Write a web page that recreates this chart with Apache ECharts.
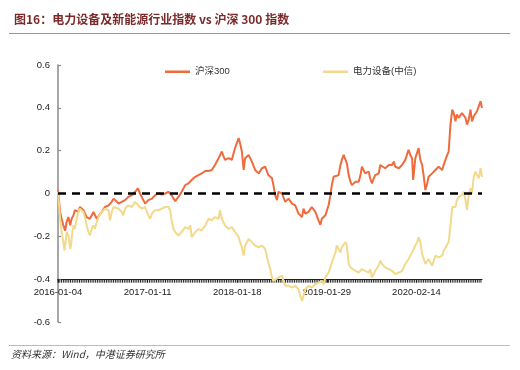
<!DOCTYPE html>
<html>
<head>
<meta charset="utf-8">
<script src="https://cdn.jsdelivr.net/npm/echarts@6/dist/echarts.min.js"></script>
<style>
html,body{margin:0;padding:0;background:#fff;}
#c{width:520px;height:370px;}
</style>
</head>
<body>
<div id="c"></div>
<script>
// Trading-day index (0 = 2016-01-04) and cumulative return
var tickLabels = ['2016-01-04','2017-01-11','2018-01-18','2019-01-29','2020-02-14'];
var seriesNames = ['沪深300','电力设备(中信)'];
var hs300 = [[0,0.016],[6,-0.086],[10,-0.118],[15,-0.149],[20,-0.173],[24,-0.133],[29,-0.110],[34,-0.149],[38,-0.118],[43,-0.102],[47,-0.078],[52,-0.071],[57,-0.086],[61,-0.063],[66,-0.067],[71,-0.078],[75,-0.086],[80,-0.110],[85,-0.118],[89,-0.118],[94,-0.110],[99,-0.086],[103,-0.094],[108,-0.118],[113,-0.110],[122,-0.086],[131,-0.063],[141,-0.055],[150,-0.039],[155,-0.024],[159,-0.031],[169,-0.047],[178,-0.039],[187,-0.031],[196,-0.016],[206,-0.008],[215,0.008],[223,0.024],[229,0],[236,-0.024],[243,-0.047],[252,-0.031],[262,-0.024],[271,-0.008],[280,0],[290,-0.005],[299,0],[308,0.008],[317,-0.008],[327,-0.036],[336,-0.016],[345,0.008],[355,0.039],[364,0.047],[373,0.063],[383,0.078],[392,0.086],[401,0.094],[411,0.105],[420,0.105],[429,0.110],[438,0.133],[448,0.165],[457,0.196],[462,0.173],[466,0.157],[476,0.165],[485,0.157],[494,0.212],[504,0.259],[508,0.235],[513,0.196],[518,0.110],[522,0.165],[532,0.180],[541,0.149],[550,0.110],[560,0.094],[569,0.118],[578,0.125],[587,0.086],[597,0.071],[601,0.039],[606,-0.008],[611,-0.031],[615,0.008],[625,0],[634,-0.039],[643,-0.024],[653,-0.047],[662,-0.055],[671,-0.094],[681,-0.110],[685,-0.071],[690,-0.094],[699,-0.086],[708,-0.063],[718,-0.086],[727,-0.125],[732,-0.146],[736,-0.118],[746,-0.102],[755,-0.055],[760,-0.008],[764,0.039],[769,0.078],[774,0.071],[783,0.086],[788,0.133],[792,0.157],[797,0.180],[802,0.184],[806,0.141],[811,0.086],[816,0.055],[820,0.039],[830,0.055],[839,0.055],[844,0.086],[848,0.125],[857,0.094],[867,0.102],[871,0.071],[876,0.047],[881,0.071],[885,0.086],[895,0.094],[899,0.133],[904,0.125],[913,0.118],[923,0.133],[932,0.133],[937,0.149],[941,0.125],[951,0.118],[960,0.133],[969,0.157],[978,0.204],[983,0.180],[988,0.165],[991,0.063],[997,0.165],[1006,0.212],[1011,0.157],[1016,0.133],[1020,0.086],[1025,0.016],[1030,0.047],[1034,0.078],[1044,0.094],[1053,0.110],[1062,0.125],[1072,0.110],[1076,0.133],[1081,0.157],[1086,0.180],[1090,0.196],[1095,0.322],[1100,0.392],[1104,0.376],[1109,0.337],[1113,0.369],[1118,0.353],[1123,0.361],[1127,0.376],[1132,0.384],[1137,0.353],[1141,0.322],[1146,0.345],[1151,0.392],[1155,0.337],[1160,0.361],[1165,0.369],[1169,0.384],[1174,0.376],[1179,0.431],[1181,0.416],[1183,0.400]];
var elecEquip = [[0,0.008],[3,-0.055],[6,-0.118],[10,-0.180],[15,-0.227],[18,-0.267],[21,-0.227],[24,-0.180],[29,-0.196],[34,-0.259],[36,-0.243],[40,-0.180],[43,-0.149],[47,-0.165],[52,-0.118],[57,-0.086],[61,-0.071],[66,-0.078],[71,-0.086],[75,-0.110],[80,-0.149],[85,-0.180],[89,-0.196],[94,-0.165],[99,-0.149],[103,-0.165],[108,-0.133],[113,-0.110],[122,-0.086],[131,-0.071],[136,-0.063],[141,-0.078],[145,-0.125],[150,-0.086],[155,-0.063],[159,-0.071],[169,-0.071],[178,-0.086],[182,-0.102],[187,-0.071],[196,-0.055],[206,-0.063],[215,-0.039],[220,-0.031],[224,-0.055],[234,-0.071],[243,-0.063],[252,-0.102],[257,-0.118],[262,-0.094],[271,-0.078],[280,-0.078],[290,-0.071],[299,-0.063],[308,-0.063],[313,-0.078],[317,-0.125],[322,-0.165],[327,-0.180],[336,-0.196],[341,-0.204],[345,-0.180],[355,-0.157],[364,-0.165],[369,-0.149],[373,-0.204],[383,-0.180],[392,-0.165],[401,-0.173],[411,-0.149],[420,-0.118],[429,-0.125],[438,-0.110],[448,-0.118],[452,-0.078],[457,-0.118],[466,-0.149],[476,-0.165],[485,-0.157],[494,-0.180],[504,-0.204],[508,-0.227],[513,-0.251],[518,-0.290],[522,-0.243],[527,-0.227],[532,-0.212],[541,-0.227],[550,-0.243],[560,-0.251],[569,-0.243],[578,-0.259],[587,-0.322],[592,-0.353],[597,-0.392],[601,-0.408],[606,-0.400],[615,-0.392],[625,-0.384],[629,-0.408],[634,-0.431],[643,-0.431],[653,-0.439],[662,-0.431],[671,-0.447],[676,-0.478],[681,-0.502],[685,-0.478],[690,-0.447],[699,-0.431],[708,-0.439],[718,-0.424],[727,-0.416],[736,-0.408],[741,-0.424],[746,-0.392],[755,-0.369],[760,-0.345],[764,-0.322],[774,-0.275],[778,-0.243],[783,-0.259],[788,-0.275],[792,-0.251],[802,-0.227],[806,-0.243],[811,-0.329],[816,-0.345],[820,-0.345],[830,-0.361],[839,-0.369],[848,-0.353],[857,-0.361],[867,-0.369],[871,-0.353],[876,-0.392],[881,-0.376],[885,-0.361],[895,-0.337],[899,-0.314],[904,-0.329],[913,-0.345],[923,-0.353],[932,-0.361],[941,-0.376],[951,-0.369],[960,-0.361],[969,-0.329],[978,-0.306],[988,-0.275],[992,-0.267],[997,-0.243],[1002,-0.227],[1006,-0.204],[1011,-0.227],[1016,-0.282],[1020,-0.290],[1025,-0.329],[1034,-0.306],[1044,-0.337],[1053,-0.290],[1062,-0.298],[1072,-0.290],[1076,-0.267],[1081,-0.259],[1090,-0.227],[1095,-0.149],[1100,-0.063],[1104,-0.055],[1109,-0.063],[1113,-0.031],[1118,-0.016],[1123,-0.024],[1127,-0.008],[1132,0.008],[1137,-0.031],[1141,-0.078],[1146,-0.008],[1151,0.024],[1155,0],[1160,0.078],[1165,0.102],[1169,0.086],[1174,0.071],[1179,0.118],[1183,0.078]];
var yMin = -0.6, yMax = 0.6, yStep = 0.2;
var xMax = 1183, xStep = 250, xTickStep = 5;
var xAxisLevel = -0.4;

// positions (in trading days) of the dense axis ticks
var tickDays = [];
for (var t = 0; t <= xMax; t += xTickStep) tickDays.push([t, xAxisLevel]);

var chart = echarts.init(document.getElementById('c'), null, {renderer:'canvas'});
var gridTop = 65, gridBottom = 48, H = 370;
var gridH = H - gridTop - gridBottom;
var offset = -gridH * (xAxisLevel - yMin) / (yMax - yMin);
var lblFont = '"Liberation Sans", Arial, "Noto Sans CJK SC", sans-serif';
var option = {
  animation: false,
  backgroundColor: '#fff',
  textStyle: {fontFamily: lblFont},
  title: {
    text: '图16：电力设备及新能源行业指数 vs 沪深 300 指数',
    left: 9, top: 8,
    textStyle: {fontSize: 12, fontWeight: 'bold', color: '#7A2A2A', fontFamily: '"Noto Sans CJK SC", sans-serif'}
  },
  graphic: [
    {type:'line', shape:{x1:9, y1:33.5, x2:510, y2:33.5}, style:{stroke:'#D4806A', lineWidth:1.2}},
    {type:'line', shape:{x1:9, y1:345.5, x2:510, y2:345.5}, style:{stroke:'#DFB0A2', lineWidth:1.2}},
    {type:'text', left: 11, top: 349, style:{text:'资料来源：Wind，中港证券研究所', font:'italic 10px "Noto Sans CJK SC", sans-serif', fill:'#333'}}
  ],
  legend: [
    {data:[seriesNames[0]], left:160, top:62, icon:'rect', itemWidth:25, itemHeight:2.5, itemGap:10,
     textStyle:{fontSize:9.5, color:'#333', fontFamily:lblFont}},
    {data:[seriesNames[1]], left:318, top:62, icon:'rect', itemWidth:25, itemHeight:2.5, itemGap:10,
     textStyle:{fontSize:9.5, color:'#333', fontFamily:lblFont}}
  ],
  grid: {left: 58, right: 38, top: gridTop, bottom: gridBottom},
  xAxis: {
    type: 'value', min: 0, max: xMax, interval: xStep,
    position: 'bottom', offset: offset,
    axisLine: {onZero: false, lineStyle: {color: '#222', width: 1.2}},
    axisTick: {show: true, length: 3.5, lineStyle: {color: '#222', width: 1}},
    splitLine: {show: false},
    axisLabel: {
      fontSize: 9.5, color: '#222', margin: 8, showMaxLabel: false,
      formatter: function (v) { var k = Math.round(v / xStep); return (Math.abs(v - k * xStep) < 1e-6 && tickLabels[k]) ? tickLabels[k] : ''; }
    }
  },
  yAxis: {
    type: 'value', min: yMin, max: yMax, interval: yStep,
    axisLine: {show: true, lineStyle: {color: '#8a8a8a', width: 1.5}},
    axisTick: {show: true, inside: true, length: 3, lineStyle: {color: '#8a8a8a', width: 1.2}},
    splitLine: {show: false},
    axisLabel: {fontSize: 9.5, color: '#222', margin: 8,
      formatter: function (v) { return String(+v.toFixed(1)); }}
  },
  series: [
    {name: 'axisTicks', type: 'custom', data: tickDays, silent: true, clip: false, z: 1,
     renderItem: function (params, api) {
       var p = api.coord([api.value(0), api.value(1)]);
       return {type: 'line', shape: {x1: p[0], y1: p[1], x2: p[0], y2: p[1] + 3.5},
               style: {stroke: '#222', lineWidth: 1}};
     }},
    {name: seriesNames[0], type: 'line', data: hs300, showSymbol: false, symbol: 'none', z: 3,
     lineStyle: {color: '#EF6B3D', width: 2}, itemStyle: {color: '#EF6B3D'}},
    {name: seriesNames[1], type: 'line', data: elecEquip, showSymbol: false, symbol: 'none', z: 3,
     lineStyle: {color: '#F2D98C', width: 2}, itemStyle: {color: '#F2D98C'},
     markLine: {silent: true, symbol: ['none','none'], label: {show: false}, z: 10,
       lineStyle: {color: '#000', type: [8, 6], width: 2.5},
       data: [{yAxis: 0}]}}
  ]
};
chart.setOption(option);
</script>
</body>
</html>
